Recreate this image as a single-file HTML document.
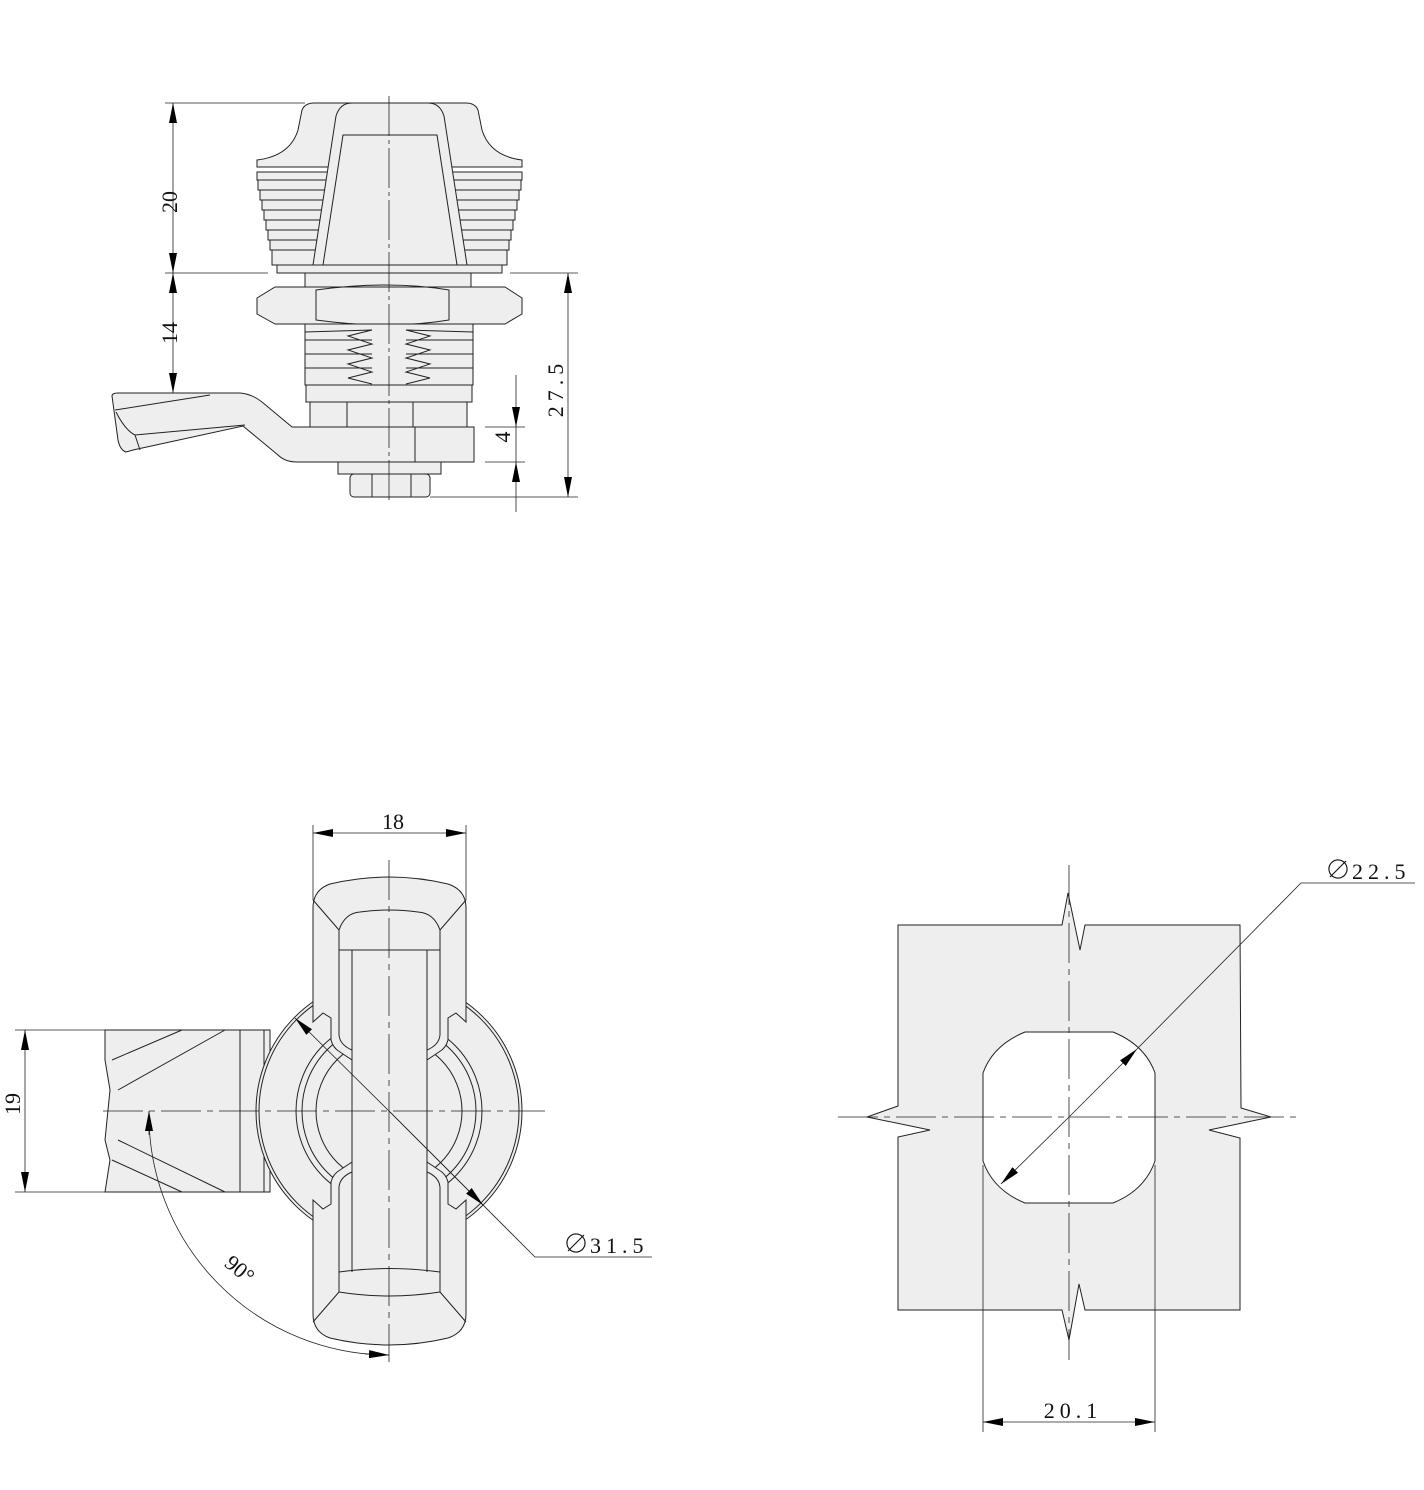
<!DOCTYPE html>
<html><head><meta charset="utf-8"><style>
html,body{margin:0;padding:0;background:#fff;}
svg{display:block;}
text{font-family:"Liberation Serif","Noto Serif CJK SC",serif;fill:#111;}
</style></head><body>
<svg width="1424" height="1490" viewBox="0 0 1424 1490" xmlns="http://www.w3.org/2000/svg">
<defs>
<marker id="a" viewBox="0 0 20 8" refX="20" refY="4" markerWidth="20" markerHeight="8" markerUnits="userSpaceOnUse" orient="auto"><path d="M0,0 L20,4 L0,8 Z" fill="#000"/></marker>
</defs>
<g fill="#eeeeee" stroke="#222" stroke-width="1">
<!-- ===== TOP VIEW ===== -->
<path d="M257,167 L257,160 Q290,156 298,130 L302,110 Q305,103 314,103 L466,103 Q475,103 478,110 L482,130 Q490,156 522,160 L522,167 Z"/>
<rect x="257" y="172" width="265" height="8"/>
<rect x="258" y="180" width="263" height="10"/>
<rect x="260" y="190" width="259" height="10"/>
<rect x="262" y="200" width="255" height="10"/>
<rect x="264" y="210" width="251" height="10"/>
<rect x="266" y="220" width="247" height="10"/>
<rect x="268" y="230" width="243" height="10"/>
<rect x="270" y="240" width="239" height="10"/>
<rect x="272" y="250" width="235" height="15"/>
<rect x="277" y="265" width="225" height="8"/>
<path d="M313,265 L336,116 Q340,103 352,103 L428,103 Q440,103 444,116 L467,265 Z"/>
<path d="M323,265 L343,135 L437,135 L457,265" fill="none"/>
<rect x="305" y="273" width="166" height="14"/>
<path d="M257,298 L275,287 L505,287 L522,298 L522,314 L505,324 L275,324 L257,314 Z"/>
<path d="M316,290 Q389,280 449,290 L449,320 Q389,330 316,320 Z" fill="none"/>
<rect x="305" y="324" width="168" height="61"/>
<path d="M305,332 L372,330 L348,336 L372,344 L348,350 L372,358 L348,364 L372,372 L348,378 L372,384" fill="none"/>
<path d="M473,332 L406,330 L430,336 L406,344 L430,350 L406,358 L430,364 L406,372 L430,378 L406,384" fill="none"/>
<line x1="305" y1="340" x2="372" y2="340"/><line x1="305" y1="354" x2="372" y2="354"/><line x1="305" y1="368" x2="372" y2="368"/>
<line x1="406" y1="340" x2="473" y2="340"/><line x1="406" y1="354" x2="473" y2="354"/><line x1="406" y1="368" x2="473" y2="368"/>
<rect x="306" y="385" width="166" height="17"/>
<rect x="310" y="402" width="157" height="25"/>
<rect x="347" y="402" width="66" height="25"/>
<path d="M112,396 Q112,393 118,393 L240,393 Q252,394 262,402 L292,427 L474,427 L474,462 L297,462 Q285,462 278,455 L243,426 L133,450 L126,452 Q120,450 118,440 Z"/>
<path d="M115,410 L210,395 M116,412 Q125,430 135,435 L245,425 M135,435 L140,450" fill="none"/>
<line x1="415" y1="427" x2="415" y2="462"/>
<rect x="338" y="462" width="103" height="12"/>
<rect x="350" y="474" width="80" height="23" rx="4"/>
<line x1="372" y1="474" x2="372" y2="497"/><line x1="411" y1="474" x2="411" y2="497"/>
<!-- ===== BOTTOM LEFT ===== -->
<path d="M105,1030 L270,1030 L270,1192 L105,1192 L110,1160 L105,1140 L110,1090 L105,1060 Z"/>
<line x1="240" y1="1030" x2="240" y2="1192"/><line x1="264" y1="1030" x2="264" y2="1192"/>
<path d="M112,1060 L182,1030 M118,1090 L225,1030 M118,1140 L225,1192 M112,1160 L182,1192" fill="none"/>
<circle cx="389" cy="1111" r="133"/>
<circle cx="389" cy="1111" r="130" fill="none"/>
<circle cx="389" cy="1111" r="93" fill="none"/>
<circle cx="389" cy="1111" r="87" fill="none"/>
<circle cx="389" cy="1111" r="73" fill="none"/>
<path d="M313,908 Q313,890 330,884 Q389,870 448,884 Q466,890 466,908 L466,1022 L456,1013 L448,1018 L448,1040 Q446,1048 439,1052 L427,1060 L427,1162 L439,1170 Q446,1174 448,1182 L448,1204 L456,1209 L466,1200 L466,1314 Q466,1332 448,1338 Q389,1352 330,1338 Q313,1332 313,1314 L313,1200 L323,1209 L331,1204 L331,1182 Q333,1174 340,1170 L352,1162 L352,1060 L340,1052 Q333,1048 331,1040 L331,1018 L323,1013 L313,1022 Z"/>
<path d="M339,950 L339,930 Q345,913 360,912 Q389,908 418,912 Q434,913 440,930 L440,950 Z" fill="none"/>
<path d="M313,900 L339,930 M466,900 L440,930 M313,1322 L339,1292 M466,1322 L440,1292" fill="none"/>
<path d="M339,1292 L339,1272 Q389,1265 440,1272 L440,1292 Q389,1300 339,1292" fill="none"/>
<path d="M339,950 L339,1035 Q340,1045 352,1050 M339,1272 L339,1187 Q340,1177 352,1172 M440,950 L440,1035 Q439,1045 427,1050 M440,1272 L440,1187 Q439,1177 427,1172" fill="none"/>
<line x1="352" y1="950" x2="352" y2="1272"/><line x1="427" y1="950" x2="427" y2="1272"/>
<!-- ===== BOTTOM RIGHT ===== -->
<path fill-rule="evenodd" d="M898,925 L1062,925 L1068,893 L1080,950 L1085,925 L1240,925 L1241,1108 L1271,1117 L1209,1130 L1240,1138 L1240,1310 L1085,1310 L1079,1284 L1069,1340 L1062,1310 L898,1310 L898,1137 L930,1130 L867,1117 L898,1106 Z
M1025,1032 L1113,1032 Q1145,1045 1155,1073 L1155,1161 Q1145,1190 1113,1203 L1025,1203 Q993,1190 983,1161 L983,1073 Q993,1045 1025,1032 Z"/>
</g>
<g stroke="#222" stroke-width="0.8" fill="none">
<line x1="389" y1="96" x2="389" y2="500" stroke-dasharray="40,4,4,4"/>
<line x1="389" y1="860" x2="389" y2="1362" stroke-dasharray="40,6,6,6"/>
<line x1="103" y1="1111" x2="545" y2="1111" stroke-dasharray="40,6,6,6"/>
<line x1="1069" y1="865" x2="1069" y2="1360" stroke-dasharray="40,6,6,6"/>
<line x1="838" y1="1117" x2="1298" y2="1117" stroke-dasharray="40,6,6,6"/>
<line x1="165" y1="103" x2="305" y2="103"/>
<line x1="165" y1="273" x2="268" y2="273"/>
<line x1="510" y1="273" x2="578" y2="273"/>
<line x1="430" y1="497" x2="578" y2="497"/>
<line x1="485" y1="427" x2="525" y2="427"/>
<line x1="485" y1="462" x2="525" y2="462"/>
<line x1="173" y1="188" x2="173" y2="103" marker-end="url(#a)"/>
<line x1="173" y1="188" x2="173" y2="273" marker-end="url(#a)"/>
<line x1="173" y1="330" x2="173" y2="273" marker-end="url(#a)"/>
<line x1="173" y1="330" x2="173" y2="393" marker-end="url(#a)"/>
<line x1="568" y1="385" x2="568" y2="273" marker-end="url(#a)"/>
<line x1="568" y1="385" x2="568" y2="497" marker-end="url(#a)"/>
<line x1="516" y1="375" x2="516" y2="427" marker-end="url(#a)"/>
<line x1="516" y1="512" x2="516" y2="462" marker-end="url(#a)"/>
<line x1="516" y1="427" x2="516" y2="462"/>
<line x1="313" y1="825" x2="313" y2="900"/><line x1="466" y1="825" x2="466" y2="900"/>
<line x1="389" y1="833" x2="313" y2="833" marker-end="url(#a)"/>
<line x1="389" y1="833" x2="466" y2="833" marker-end="url(#a)"/>
<line x1="15" y1="1030" x2="105" y2="1030"/><line x1="15" y1="1192" x2="105" y2="1192"/>
<line x1="25" y1="1111" x2="25" y2="1030" marker-end="url(#a)"/>
<line x1="25" y1="1111" x2="25" y2="1192" marker-end="url(#a)"/>
<path d="M149,1112 A240,240 0 0 0 389,1355"/>
<line x1="149" y1="1135" x2="149" y2="1111" marker-end="url(#a)"/>
<line x1="365" y1="1354" x2="389" y2="1355" marker-end="url(#a)"/>
<line x1="389" y1="1111" x2="295" y2="1018" marker-end="url(#a)"/>
<polyline points="389,1111 535,1257 652,1257"/>
<line x1="389" y1="1111" x2="483" y2="1205" marker-end="url(#a)"/>
<line x1="983" y1="1165" x2="983" y2="1432"/><line x1="1155" y1="1165" x2="1155" y2="1432"/>
<line x1="1069" y1="1422" x2="983" y2="1422" marker-end="url(#a)"/>
<line x1="1069" y1="1422" x2="1155" y2="1422" marker-end="url(#a)"/>
<line x1="1069" y1="1117" x2="1001" y2="1184" marker-end="url(#a)"/>
<line x1="1069" y1="1117" x2="1137" y2="1049" marker-end="url(#a)"/>
<polyline points="1137,1049 1301,883 1415,883"/>
</g>
<g font-size="22">
<text transform="translate(170,202) rotate(-90)" text-anchor="middle" dy="7">20</text>
<text transform="translate(170,333) rotate(-90)" text-anchor="middle" dy="7">14</text>
<text transform="translate(565,388) rotate(-90)" text-anchor="middle" dy="-2" letter-spacing="5">27.5</text>
<text transform="translate(512,437) rotate(-90)" text-anchor="middle" dy="-2">4</text>
<text x="393" y="829" text-anchor="middle">18</text>
<text transform="translate(22,1104) rotate(-90)" text-anchor="middle" dy="-2">19</text>
<text transform="translate(235,1275) rotate(40)" text-anchor="middle">90°</text>
<text x="563" y="1253" font-size="26">∅</text><text x="590" y="1253" letter-spacing="5">31.5</text>
<text x="1325" y="879" font-size="26">∅</text><text x="1352" y="879" letter-spacing="5">22.5</text>
<text x="1073" y="1418" text-anchor="middle" letter-spacing="5">20.1</text>
</g>
</svg>
</body></html>
